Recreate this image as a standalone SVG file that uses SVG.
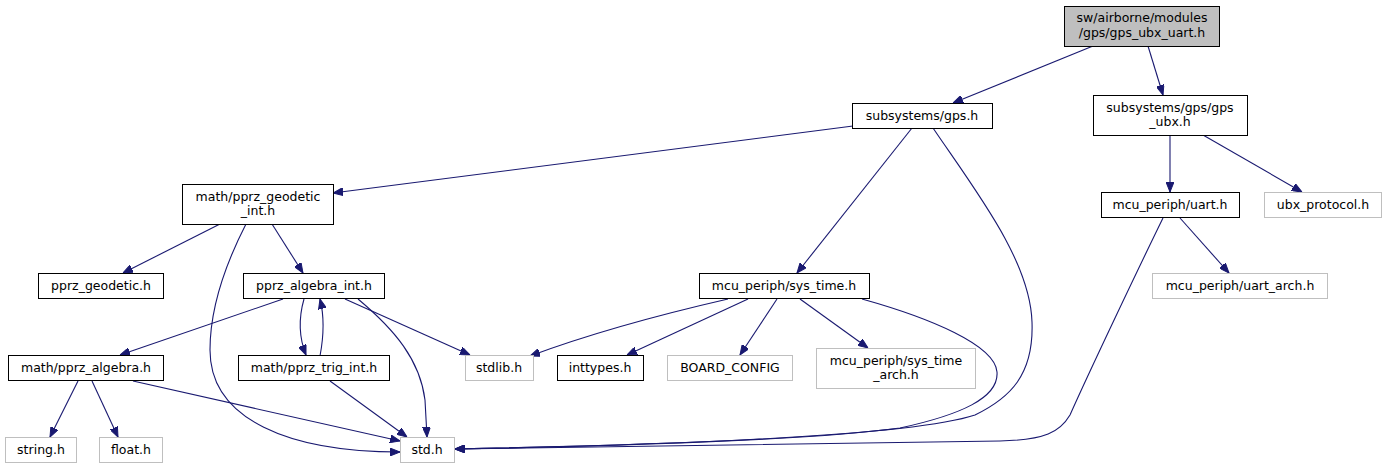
<svg xmlns="http://www.w3.org/2000/svg" width="1385" height="469" viewBox="0 0 1385 469">
<defs>
<style>
.n rect{fill:#fff;stroke:#000;stroke-width:1}
.n.g rect{stroke:#bfbfbf}
.n.r rect{fill:#bfbfbf}
text{font-family:"DejaVu Sans","Liberation Sans",sans-serif;font-size:12.5px;text-anchor:middle;fill:#000}
.e path{fill:none;stroke:#191970;stroke-width:1.1;marker-end:url(#ah)}
</style>
<marker id="ah" viewBox="0 0 10 8" refX="10" refY="4" markerWidth="10" markerHeight="8" markerUnits="userSpaceOnUse" orient="auto">
<path d="M0,0 L10,4 L0,8 z" fill="#191970" stroke="#191970" stroke-width="1"/>
</marker>
</defs>
<rect width="1385" height="469" fill="#fff"/>
<g class="e">
<path d="M1093,46 L953,103"/>
<path d="M1148,46 L1163,95"/>
<path d="M853,126 L333,193"/>
<path d="M912,128 L797,273"/>
<path d="M933,128 C975,190 1030,260 1032,322 C1034,375 1010,398 975,415 C900,440 560,447 455,449"/>
<path d="M1170,135 L1170,192"/>
<path d="M1203,135 L1302,192"/>
<path d="M1180,218 L1229,273"/>
<path d="M1163,218 C1140,265 1090,370 1070,415 C1060,432 1045,440 1000,441 C800,444 600,447 455,449"/>
<path d="M220,224 L123,273"/>
<path d="M272,224 L303,273"/>
<path d="M246,224 C225,265 210,310 210,350 C210,420 290,452 400,452"/>
<path d="M283,299 L120,355"/>
<path d="M304,299 C298,320 300,340 306,355"/>
<path d="M320,356 C324,335 324,315 320,299"/>
<path d="M345,299 L470,355"/>
<path d="M358,299 C395,330 420,360 425,400 L427,437"/>
<path d="M78,381 L50,437"/>
<path d="M92,381 L118,437"/>
<path d="M133,381 L400,441"/>
<path d="M330,381 L407,437"/>
<path d="M728,299 C680,310 600,330 530,356"/>
<path d="M748,299 L627,355"/>
<path d="M777,299 L740,355"/>
<path d="M800,299 L868,348"/>
<path d="M862,299 C930,318 995,345 997,372 C999,398 960,415 900,428 C800,442 560,447 455,449"/>
</g>
<g id="root" class="n r"><rect x="1064.5" y="6.5" width="155" height="40"/><text x="1142" y="22">sw/airborne/modules</text><text x="1142" y="37">/gps/gps_ubx_uart.h</text></g>
<g id="gps" class="n"><rect x="852.5" y="103.5" width="140" height="25"/><text x="922" y="120">subsystems/gps.h</text></g>
<g id="gps_ubx" class="n"><rect x="1093.5" y="95.5" width="154" height="40"/><text x="1170" y="112">subsystems/gps/gps</text><text x="1170" y="126">_ubx.h</text></g>
<g id="geodetic_int" class="n"><rect x="182.5" y="184.5" width="151" height="40"/><text x="258" y="201">math/pprz_geodetic</text><text x="258" y="215">_int.h</text></g>
<g id="uart" class="n"><rect x="1101.5" y="192.5" width="138" height="25"/><text x="1170" y="209">mcu_periph/uart.h</text></g>
<g id="ubx_protocol" class="n g"><rect x="1264.5" y="192.5" width="117" height="25"/><text x="1323" y="209">ubx_protocol.h</text></g>
<g id="pprz_geodetic" class="n"><rect x="38.5" y="273.5" width="125" height="25"/><text x="101" y="290">pprz_geodetic.h</text></g>
<g id="algebra_int" class="n"><rect x="243.5" y="273.5" width="141" height="25"/><text x="314" y="290">pprz_algebra_int.h</text></g>
<g id="sys_time" class="n"><rect x="699.5" y="273.5" width="170" height="25"/><text x="784" y="290">mcu_periph/sys_time.h</text></g>
<g id="uart_arch" class="n g"><rect x="1152.5" y="273.5" width="175" height="25"/><text x="1240" y="290">mcu_periph/uart_arch.h</text></g>
<g id="pprz_algebra" class="n"><rect x="8.5" y="355.5" width="155" height="25"/><text x="86" y="372">math/pprz_algebra.h</text></g>
<g id="trig_int" class="n"><rect x="238.5" y="355.5" width="151" height="25"/><text x="314" y="372">math/pprz_trig_int.h</text></g>
<g id="stdlib" class="n g"><rect x="465.5" y="355.5" width="68" height="25"/><text x="499" y="372">stdlib.h</text></g>
<g id="inttypes" class="n"><rect x="557.5" y="355.5" width="86" height="25"/><text x="600" y="372">inttypes.h</text></g>
<g id="board_config" class="n g"><rect x="667.5" y="355.5" width="125" height="25"/><text x="730" y="372">BOARD_CONFIG</text></g>
<g id="sys_time_arch" class="n g"><rect x="816.5" y="348.5" width="159" height="40"/><text x="896" y="365">mcu_periph/sys_time</text><text x="896" y="379">_arch.h</text></g>
<g id="string" class="n g"><rect x="5.5" y="437.5" width="71" height="25"/><text x="41" y="454">string.h</text></g>
<g id="float" class="n g"><rect x="99.5" y="437.5" width="63" height="25"/><text x="131" y="454">float.h</text></g>
<g id="std" class="n g"><rect x="400.5" y="437.5" width="54" height="25"/><text x="427" y="454">std.h</text></g>
</svg>
